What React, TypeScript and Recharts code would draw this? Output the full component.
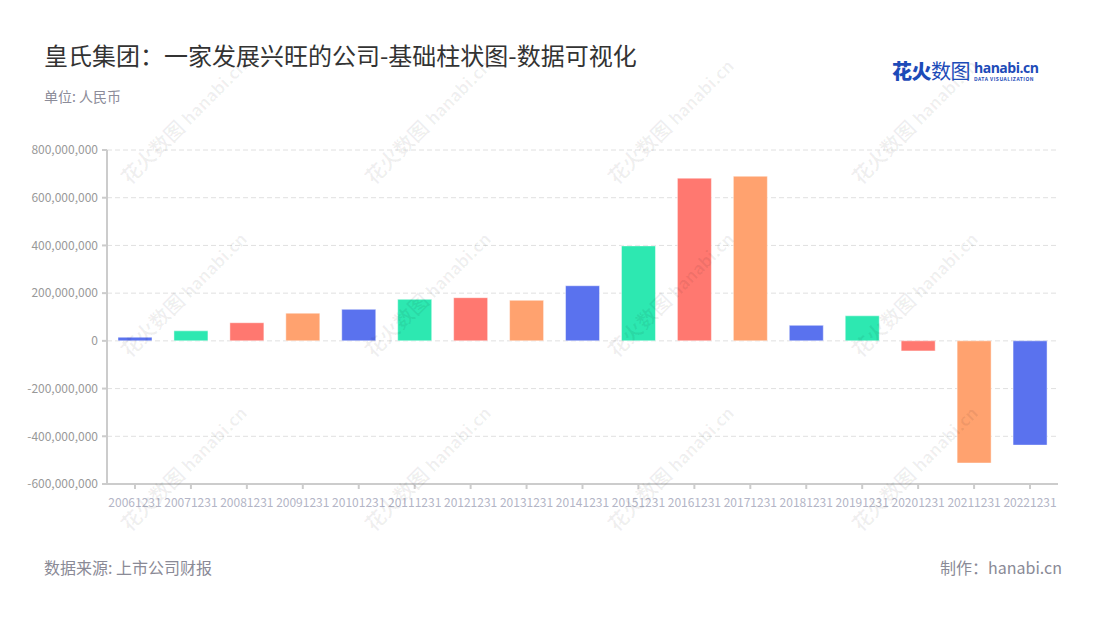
import { BarChart, Bar, XAxis, YAxis, CartesianGrid, Cell } from "recharts";

const years = [
  "20061231", "20071231", "20081231", "20091231", "20101231", "20111231",
  "20121231", "20131231", "20141231", "20151231", "20161231", "20171231",
  "20181231", "20191231", "20201231", "20211231", "20221231",
];

// 净利润 (人民币)
const profit = [
  15e6, 42e6, 76e6, 116e6, 132e6, 174e6, 181e6, 170e6, 231e6, 398e6,
  682e6, 690e6, 65e6, 105e6, -42e6, -512e6, -437e6,
];

const palette = ["#5a72ee", "#2de8b1", "#ff7870", "#ffa26f"];

const yTicks = [-600e6, -400e6, -200e6, 0, 200e6, 400e6, 600e6, 800e6];

const wmCols = [183, 427, 670, 914];
const wmRows = [120, 293, 467];

const chartData = years.map((y, i) => ({ year: y, value: profit[i] }));

const font = "'Noto Sans CJK SC', 'Noto Sans', sans-serif";

const Watermark = ({ x, y }: { x: number; y: number }) => (
  <div
    style={{
      position: "absolute",
      left: x - 90,
      top: y - 14,
      width: 180,
      textAlign: "center",
      transform: "rotate(-45deg)",
      color: "rgba(0,0,0,0.06)",
      fontFamily: font,
      whiteSpace: "nowrap",
      pointerEvents: "none",
    }}
  >
    <span style={{ fontSize: 20, fontWeight: 700 }}>花火数图 </span>
    <span style={{ fontSize: 17, fontWeight: 700 }}>hanabi.cn</span>
  </div>
);

const App = () => {
  return (
    <div
      style={{
        position: "relative",
        width: 1100,
        height: 620,
        background: "#fff",
        fontFamily: font,
        overflow: "hidden",
      }}
    >
      <style>{`body{margin:0}`}</style>
      <div
        style={{
          position: "absolute",
          left: 44,
          top: 39,
          fontSize: 24,
          color: "#333",
          lineHeight: "32px",
          whiteSpace: "nowrap",
        }}
      >
        皇氏集团：一家发展兴旺的公司-基础柱状图-数据可视化
      </div>
      <div
        style={{
          position: "absolute",
          left: 44,
          top: 86,
          fontSize: 14,
          color: "#8c8c99",
          lineHeight: "20px",
        }}
      >
        单位: 人民币
      </div>

      {/* logo */}
      <div
        style={{
          position: "absolute",
          left: 892,
          top: 58,
          display: "flex",
          alignItems: "center",
          whiteSpace: "nowrap",
          color: "#1d4bb8",
        }}
      >
        <span style={{ fontSize: 20, lineHeight: "26px", letterSpacing: -0.5 }}>
          <span style={{ fontWeight: 900 }}>花火</span>
          <span style={{ fontWeight: 400 }}>数图</span>
        </span>
        <span style={{ display: "inline-block", marginLeft: 4 }}>
          <span
            style={{
              display: "block",
              fontSize: 14,
              lineHeight: "15px",
              fontWeight: 700,
              fontFamily: "'Open Sans', sans-serif",
              letterSpacing: -0.5,
            }}
          >
            hanabi.cn
          </span>
          <span
            style={{
              display: "block",
              marginTop: 1,
              fontSize: 5,
              lineHeight: "6px",
              fontWeight: 700,
              letterSpacing: 0.5,
            }}
          >
            DATA VISUALIZATION
          </span>
        </span>
      </div>

      <div style={{ position: "absolute", left: 0, top: 0 }}>
        <BarChart
          width={1100}
          height={620}
          data={chartData}
          margin={{ top: 150, right: 42, bottom: 106, left: 27 }}
        >
          <CartesianGrid
            vertical={false}
            stroke="#e0e0e0"
            strokeDasharray="5 3"
          />
          <XAxis
            dataKey="year"
            interval={0}
            height={30}
            stroke="#cccccc"
            strokeWidth={2}
            tickSize={5}
            tick={{ fill: "#b3b5c6", fontSize: 12 }}
            tickMargin={9}
          />
          <YAxis
            width={80}
            domain={[-600e6, 800e6]}
            ticks={yTicks}
            interval={0}
            stroke="#cccccc"
            strokeWidth={2}
            tickSize={5}
            tick={{ fill: "#999", fontSize: 12 }}
            tickMargin={4}
            tickFormatter={(v: number) => v.toLocaleString("en-US")}
          />
          <Bar
            dataKey="value"
            barSize={34}
            isAnimationActive={false}
            stroke="rgba(255,255,255,0.45)"
            strokeWidth={1}
          >
            {chartData.map((d, i) => (
              <Cell key={d.year} fill={palette[i % palette.length]} />
            ))}
          </Bar>
        </BarChart>
      </div>

      {wmRows.map((y) =>
        wmCols.map((x) => <Watermark key={`${x}-${y}`} x={x} y={y} />)
      )}

      <div
        style={{
          position: "absolute",
          left: 44,
          top: 555,
          fontSize: 16,
          color: "#8a8a96",
          lineHeight: "24px",
        }}
      >
        数据来源: 上市公司财报
      </div>
      <div
        style={{
          position: "absolute",
          right: 38,
          top: 555,
          fontSize: 16,
          color: "#8a8a96",
          lineHeight: "24px",
        }}
      >
        制作：hanabi.cn
      </div>
    </div>
  );
};

export default App;
